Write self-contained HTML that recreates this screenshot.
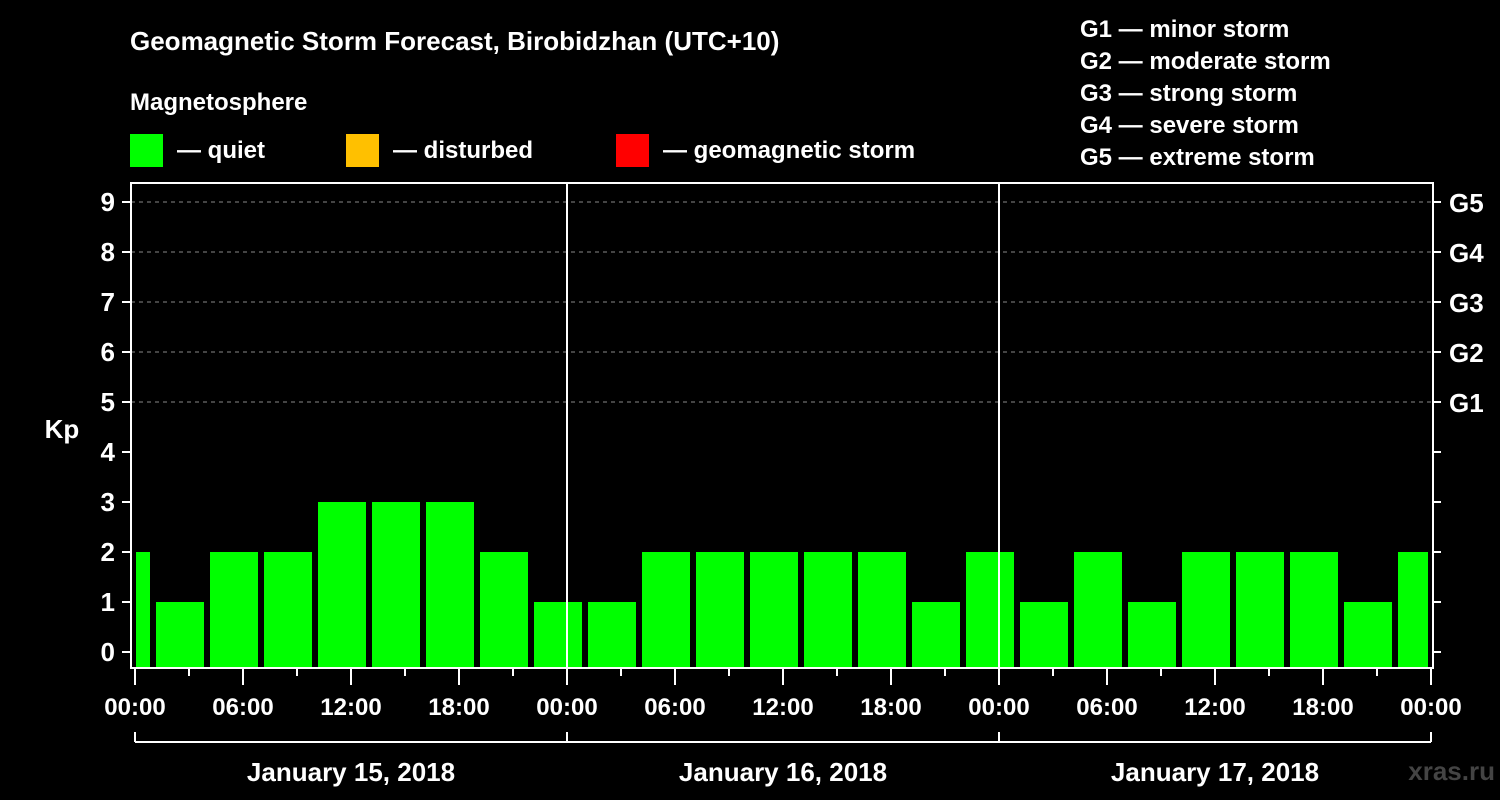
<!DOCTYPE html>
<html><head><meta charset="utf-8"><style>
html,body{margin:0;padding:0;background:#000;}
svg{display:block;font-family:"Liberation Sans",Arial,sans-serif;font-weight:bold;}
</style></head><body>
<svg width="1500" height="800" viewBox="0 0 1500 800">
<text x="130" y="50" fill="#fff" font-size="26">Geomagnetic Storm Forecast, Birobidzhan (UTC+10)</text>
<text x="130" y="110" fill="#fff" font-size="24">Magnetosphere</text>
<g><rect x="130" y="134" width="33" height="33" fill="#00ff00"/><text x="177" y="158" fill="#fff" font-size="24">— quiet</text></g>
<g><rect x="346" y="134" width="33" height="33" fill="#ffc000"/><text x="393" y="158" fill="#fff" font-size="24">— disturbed</text></g>
<g><rect x="616" y="134" width="33" height="33" fill="#ff0000"/><text x="663" y="158" fill="#fff" font-size="24">— geomagnetic storm</text></g>
<g fill="#fff" font-size="24">
<text x="1080" y="37">G1 — minor storm</text>
<text x="1080" y="69">G2 — moderate storm</text>
<text x="1080" y="101">G3 — strong storm</text>
<text x="1080" y="133">G4 — severe storm</text>
<text x="1080" y="165">G5 — extreme storm</text>
</g>
<text x="62" y="438" fill="#fff" font-size="26" text-anchor="middle">Kp</text>
<g id="grid"></g>
<g id="bars"></g>
<g id="axes"></g>
<text x="1495" y="780" fill="#444" font-size="26" text-anchor="end">xras.ru</text>
</svg>
<script>
const kpValues=[2,1,2,2,3,3,3,2,1,1,2,2,2,2,2,1,2,1,2,1,2,2,2,1,2];
const barStartHours=[-2,1,4,7,10,13,16,19,22,25,28,31,34,37,40,43,46,49,52,55,58,61,64,67,70];
const dayLabels=["January 15, 2018","January 16, 2018","January 17, 2018"];
const hourLabels=["00:00","06:00","12:00","18:00"];
const gLabels=["G1","G2","G3","G4","G5"];
const NS="http://www.w3.org/2000/svg";
const X0=135,PXH=18,Y0=652,PXU=50,BOT=668,TOP=183,LEFT=131,RIGHT=1433;
const xs=h=>X0+h*PXH, ys=v=>Y0-v*PXU;
function mk(tag,attrs,parent,txt){const e=document.createElementNS(NS,tag);for(const k in attrs)e.setAttribute(k,attrs[k]);if(txt!==undefined)e.textContent=txt;parent.appendChild(e);return e;}
const grid=document.getElementById('grid'),bars=document.getElementById('bars'),axes=document.getElementById('axes');
for(let v=5;v<=9;v++){const l=mk('line',{x1:LEFT,x2:RIGHT,y1:ys(v),y2:ys(v),stroke:'#888','stroke-dasharray':'4,4','stroke-width':1},grid);

}
kpValues.forEach((v,i)=>{const h=barStartHours[i];let x1=Math.max(xs(h)+3,LEFT+5),x2=Math.min(xs(h+3)-3,RIGHT-5);
const r=mk('rect',{x:x1,y:ys(v),width:x2-x1,height:BOT-1-ys(v),fill:'#00ff00'},bars);

});
// frame
const fr=mk('path',{d:`M${LEFT},${TOP}V${BOT}H${RIGHT}V${TOP}Z`,stroke:'#fff','stroke-width':2,fill:'none'},axes);


for(let d=1;d<3;d++){const l=mk('line',{x1:xs(24*d),x2:xs(24*d),y1:TOP,y2:BOT,stroke:'#fff','stroke-width':2},axes);

}
for(let v=0;v<=9;v++){mk('line',{x1:LEFT-9,x2:LEFT,y1:ys(v),y2:ys(v),stroke:'#fff','stroke-width':2},axes);
mk('line',{x1:RIGHT,x2:RIGHT+8,y1:ys(v),y2:ys(v),stroke:'#fff','stroke-width':2},axes);
const t=mk('text',{x:115,y:ys(v)+9,fill:'#fff','font-size':26,'text-anchor':'end'},axes,String(v));

}
gLabels.forEach((g,i)=>{const t=mk('text',{x:1449,y:ys(i+5)+10,fill:'#fff','font-size':26},axes,g);

});
for(let h=0;h<=72;h+=3){const major=h%6===0;mk('line',{x1:xs(h),x2:xs(h),y1:BOT,y2:BOT+(major?17:8),stroke:'#fff','stroke-width':2},axes);
if(major){const t=mk('text',{x:xs(h),y:715,fill:'#fff','font-size':24,'text-anchor':'middle'},axes,hourLabels[(h%24)/6]);

}}
mk('line',{x1:xs(0),x2:xs(72),y1:742,y2:742,stroke:'#fff','stroke-width':2},axes);
for(let d=0;d<=3;d++)mk('line',{x1:xs(24*d),x2:xs(24*d),y1:732,y2:742,stroke:'#fff','stroke-width':2},axes);
dayLabels.forEach((s,d)=>{const t=mk('text',{x:xs(24*d+12),y:781,fill:'#fff','font-size':26,'text-anchor':'middle'},axes,s);

});
</script>
</body></html>
